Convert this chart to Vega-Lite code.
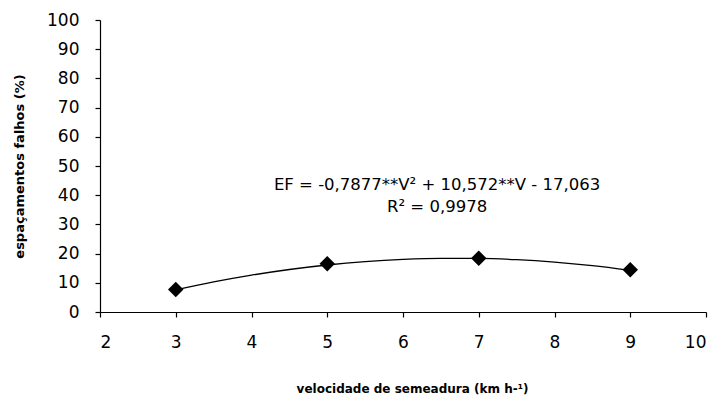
{
  "$schema": "https://vega.github.io/schema/vega-lite/v6.json",
  "width": 606,
  "height": 292,
  "autosize": {"type": "none"},
  "padding": {"left": 100, "top": 20, "right": 4, "bottom": 84},
  "background": "white",
  "config": {
    "view": {"stroke": null},
    "font": "DejaVu Sans",
    "axis": {
      "domainColor": "black",
      "tickColor": "black",
      "labelColor": "black",
      "titleColor": "black",
      "grid": false,
      "labelFont": "DejaVu Sans",
      "titleFont": "DejaVu Sans",
      "labelFontSize": 17,
      "titleFontWeight": "bold",
      "tickSize": 5,
      "domainWidth": 1.2,
      "tickWidth": 1.2,
      "labelOverlap": false
    }
  },
  "datasets": {
    "obs": [
      {"v": 3, "ef": 7.7},
      {"v": 5, "ef": 16.5},
      {"v": 7, "ef": 18.4},
      {"v": 9, "ef": 14.5}
    ],
    "fit": [
      {"v": 3, "ef": 7.56},
      {"v": 3.5, "ef": 10.29},
      {"v": 4, "ef": 12.62},
      {"v": 4.5, "ef": 14.56},
      {"v": 5, "ef": 16.1},
      {"v": 5.5, "ef": 17.25},
      {"v": 6, "ef": 18.01},
      {"v": 6.5, "ef": 18.38},
      {"v": 7, "ef": 18.34},
      {"v": 7.5, "ef": 17.92},
      {"v": 8, "ef": 17.1},
      {"v": 8.5, "ef": 15.89},
      {"v": 9, "ef": 14.28}
    ],
    "labels": [
      {"v": 6.45, "ef": 43.5, "txt": "EF = -0,7877**V² + 10,572**V - 17,063"},
      {"v": 6.45, "ef": 36, "txt": "R² = 0,9978"}
    ]
  },
  "encoding": {
    "x": {
      "field": "v", "type": "quantitative",
      "scale": {"domain": [2, 10], "nice": false, "zero": false},
      "axis": {"values": [2, 3, 4, 5, 6, 7, 8, 9, 10], "format": "d", "title": "velocidade  de semeadura (km h-¹)", "titleFontSize": 12, "titlePadding": 33, "titleX": 312, "labelPadding": 17, "labelOverlap": false}
    },
    "y": {
      "field": "ef", "type": "quantitative",
      "scale": {"domain": [0, 100], "nice": false},
      "axis": {"values": [0, 10, 20, 30, 40, 50, 60, 70, 80, 90, 100], "format": "d", "title": "espaçamentos  falhos (%)", "titleFontSize": 13, "titlePadding": 20, "labelPadding": 16, "labelOverlap": false}
    }
  },
  "layer": [
    {
      "data": {"name": "fit"},
      "mark": {"type": "line", "color": "black", "strokeWidth": 1.3, "interpolate": "monotone"}
    },
    {
      "data": {"name": "obs"},
      "mark": {"type": "point", "shape": "diamond", "filled": true, "color": "black", "size": 240, "opacity": 1}
    },
    {
      "data": {"name": "labels"},
      "mark": {"type": "text", "font": "DejaVu Sans", "fontSize": 16.5, "color": "black", "align": "center", "baseline": "middle"},
      "encoding": {
        "text": {"field": "txt"}
      }
    }
  ]
}
